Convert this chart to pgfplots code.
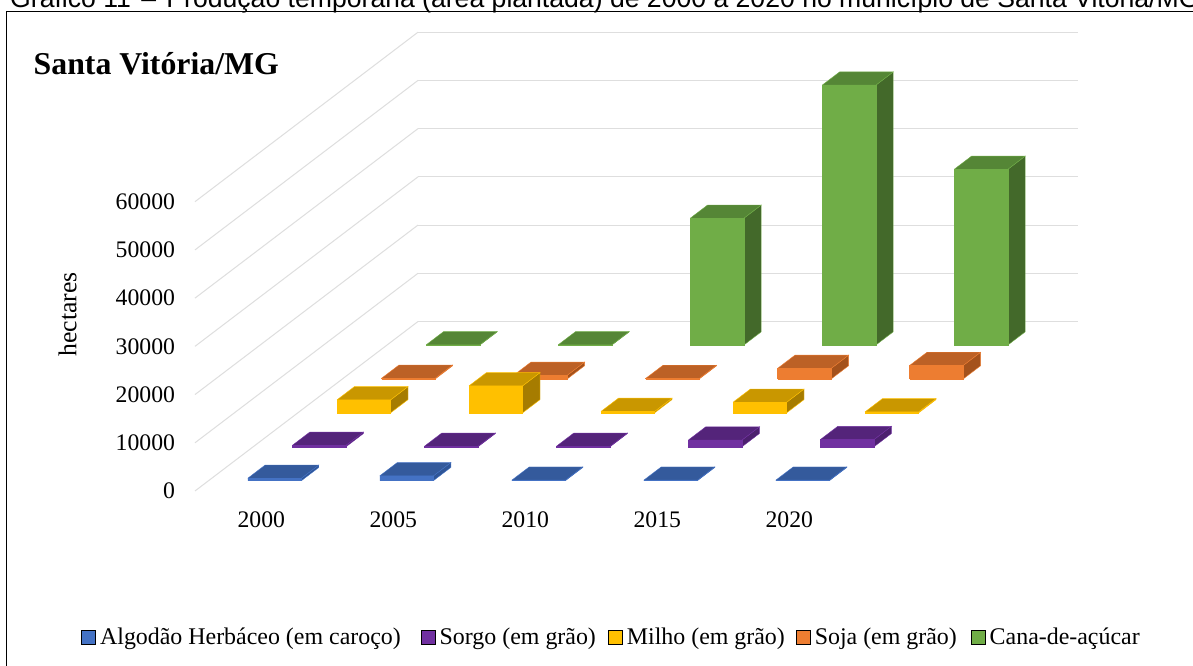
\documentclass[border=0pt]{standalone}
\usepackage{fontspec}
\setmainfont{Liberation Serif}
\newfontfamily\arialfont{Liberation Sans}
\usepackage{pgfplots}
\pgfplotsset{compat=1.18}

% front, top and side shades of each crop
\definecolor{algF}{HTML}{4472C4}\definecolor{algT}{HTML}{345A9C}\definecolor{algS}{HTML}{2F5597}
\definecolor{sorF}{HTML}{7030A0}\definecolor{sorT}{HTML}{54247A}\definecolor{sorS}{HTML}{4C206E}
\definecolor{milF}{HTML}{FFC000}\definecolor{milT}{HTML}{C99700}\definecolor{milS}{HTML}{A67C00}
\definecolor{sojF}{HTML}{ED7D31}\definecolor{sojT}{HTML}{BC6126}\definecolor{sojS}{HTML}{A4521C}
\definecolor{canF}{HTML}{70AD47}\definecolor{canT}{HTML}{558636}\definecolor{canS}{HTML}{43692A}
\definecolor{gridgray}{HTML}{DEDEDE}

% One oblique bar: {column}{row}{hectares}{colour prefix}
\newcommand{\threedbar}[4]{%
  \pgfmathsetmacro\xa{#1+0.297}\pgfmathsetmacro\xb{#1+0.703}%
  \pgfmathsetmacro\ya{#2+0.305}\pgfmathsetmacro\yb{#2+0.695}%
  \addplot3[fill=#4S,draw=#4F,line width=0.4bp,forget plot] coordinates
    {(\xb,\ya,0) (\xb,\yb,0) (\xb,\yb,#3) (\xb,\ya,#3) (\xb,\ya,0)};
  \addplot3[fill=#4T,draw=#4F,line width=0.4bp,forget plot] coordinates
    {(\xa,\ya,#3) (\xb,\ya,#3) (\xb,\yb,#3) (\xa,\yb,#3) (\xa,\ya,#3)};
  \addplot3[fill=#4F,draw=#4F,line width=0.4bp,forget plot] coordinates
    {(\xa,\ya,0) (\xb,\ya,0) (\xb,\ya,#3) (\xa,\ya,#3) (\xa,\ya,0)};
}

\begin{document}
\begin{tikzpicture}[x=1bp,y=1bp]
\useasboundingbox (0,0) rectangle (1193,666);
\clip (0,0) rectangle (1193,666);
\fill[white] (0,0) rectangle (1193,666);

\node[anchor=base west,inner sep=0pt,font=\arialfont\fontsize{26.7}{30}\selectfont] at (10,658.5)
  {Gráfico 11\hspace{3bp} – \hspace{3bp}Produção temporária (área plantada) de 2000 a 2020 no município de Santa Vitória/MG};
\draw[black,line width=1.4bp] (6.5,0) -- (6.5,654.5) -- (1193,654.5);

\node[anchor=base west,inner sep=0pt,font=\bfseries\fontsize{31.9}{36}\selectfont] at (33.5,591) {Santa Vitória/MG};
\node[rotate=90,inner sep=0pt,font=\fontsize{25.8}{28}\selectfont] at (67.5,351.5) {hectares};

\begin{axis}[
  at={(195bp,175bp)}, anchor=origin,
  x={(132bp,0bp)}, y={(44.6bp,33.9bp)}, z={(0bp,0.00482bp)},
  xmin=0, xmax=5, ymin=0, ymax=5, zmin=0, zmax=60000,
  clip=false,
  axis line style={draw=none},
  major tick length=0pt,
  xtick={0.5,1.5,2.5,3.5,4.5},
  xticklabels={2000,2005,2010,2015,2020},
  ytick=\empty,
  ztick={0,10000,20000,30000,40000,50000,60000},
  ztick pos=left, xtick pos=left,
  zmajorgrids=true, xmajorgrids=false, ymajorgrids=false,
  grid style={draw=gridgray,line width=1bp},
  scaled z ticks=false,
  /pgf/number format/assume math mode=true,
  /pgf/number format/set thousands separator={},
  ticklabel style={font=\fontsize{23.8}{26}\selectfont},
  zticklabel style={anchor=east,xshift=-16.5bp},
  xticklabel style={xshift=6bp,yshift=-17bp},
  legend style={
    draw=none, fill=none, legend columns=-1,
    at={(axis cs:3.155,0,-30290)}, anchor=center,
    font=\fontsize{24}{27}\selectfont,
    /tikz/column 1/.style={column sep=2.5bp},
    /tikz/column 2/.style={column sep=18bp},
    /tikz/column 3/.style={column sep=2.5bp},
    /tikz/column 4/.style={column sep=10bp},
    /tikz/column 5/.style={column sep=2.5bp},
    /tikz/column 6/.style={column sep=9bp},
    /tikz/column 7/.style={column sep=2.5bp},
    /tikz/column 8/.style={column sep=12bp},
    /tikz/column 9/.style={column sep=2.5bp},
  },
  legend image code/.code={\fill[#1] (0bp,-7bp) rectangle (14bp,7bp);},
]
\addlegendimage{fill=algF}\addlegendentry{Algodão Herbáceo (em caroço)}
\addlegendimage{fill=sorF}\addlegendentry{Sorgo (em grão)}
\addlegendimage{fill=milF}\addlegendentry{Milho (em grão)}
\addlegendimage{fill=sojF}\addlegendentry{Soja (em grão)}
\addlegendimage{fill=canF}\addlegendentry{Cana-de-açúcar}

% rows run back to front so that nearer bars cover farther ones
% Cana-de-açúcar
\threedbar{0}{4}{50}{can}
\threedbar{1}{4}{50}{can}
\threedbar{2}{4}{26300}{can}
\threedbar{3}{4}{53900}{can}
\threedbar{4}{4}{36450}{can}
% Soja
\threedbar{0}{3}{150}{soj}
\threedbar{1}{3}{760}{soj}
\threedbar{2}{3}{100}{soj}
\threedbar{3}{3}{2200}{soj}
\threedbar{4}{3}{2800}{soj}
% Milho
\threedbar{0}{2}{2700}{mil}
\threedbar{1}{2}{5600}{mil}
\threedbar{2}{2}{300}{mil}
\threedbar{3}{2}{2200}{mil}
\threedbar{4}{2}{200}{mil}
% Sorgo
\threedbar{0}{1}{300}{sor}
\threedbar{1}{1}{100}{sor}
\threedbar{2}{1}{100}{sor}
\threedbar{3}{1}{1400}{sor}
\threedbar{4}{1}{1500}{sor}
% Algodão
\threedbar{0}{0}{500}{alg}
\threedbar{1}{0}{1000}{alg}
\threedbar{2}{0}{100}{alg}
\threedbar{3}{0}{100}{alg}
\threedbar{4}{0}{100}{alg}
\end{axis}
\end{tikzpicture}
\end{document}
